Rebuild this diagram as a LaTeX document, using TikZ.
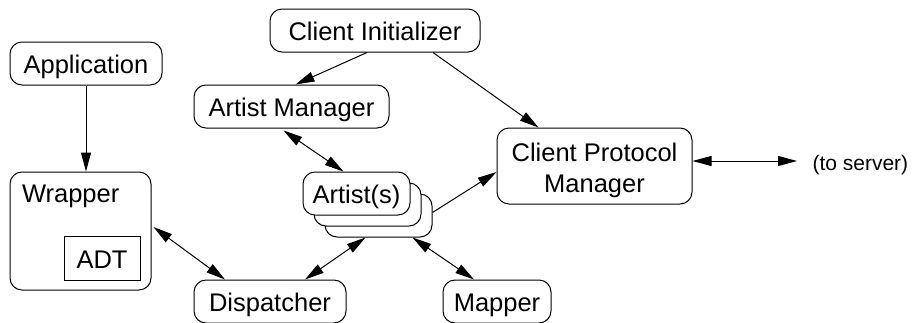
\documentclass[tikz,border=0pt]{standalone}
\usepackage{fontspec}
\setmainfont{Liberation Sans}
\usetikzlibrary{arrows.meta}

\begin{document}
\begin{tikzpicture}[x=1pt,y=1pt,line width=1pt,
  >={Triangle[length=19pt,width=10pt]},
  font=\fontsize{25.5}{31}\selectfont,
  box/.style={draw,rounded corners=12pt,inner xsep=8pt,minimum height=43pt,
    text height=20pt,text depth=0pt}]
  \path[use as bounding box,clip] (0,0) rectangle (912,-322);

  \node[box,minimum width=152pt] (app) at (86,-63.5) {Application};
  \node[box,minimum width=141pt,minimum height=118pt] (wrapper) at (80.5,-231) {};
  \node[anchor=base west,inner sep=0pt] (wraplbl) at ([shift={(12,-31)}]wrapper.north west) {Wrapper};
  \node[draw,minimum width=76pt,minimum height=44pt,text height=20pt,text depth=0pt] (adt) at (102,-258) {ADT};

  \node[box,minimum width=210pt] (init) at (375,-30.5) {Client Initializer};
  \node[box,minimum width=195pt] (artmgr) at (291.5,-106.5) {Artist Manager};

  % stack of artists, back copies first
  \node[box,fill=white,minimum width=107pt] (artistc) at (378.5,-215.5) {};
  \node[box,fill=white,minimum width=107pt] (artistb) at (367.5,-204.5) {};
  \node[box,fill=white,minimum width=107pt] (artist) at (356.5,-193.5) {Artist(s)};

  \node[box,align=center,minimum width=195pt,minimum height=76pt,
    text height=57pt,text depth=5pt] (cpm) at (594.5,-166) {Client Protocol\\Manager};
  \node[anchor=west,inner xsep=15pt,font=\fontsize{21}{25}\selectfont] (server) at (797,-165) {(to server)};

  \node[box,minimum width=152pt] (disp) at (270,-301.5) {Dispatcher};
  \node[box,minimum width=108pt] (mapper) at (497,-301.5) {Mapper};

  \draw[->] (app.south) -- (app.south |- wrapper.north);
  \draw[->] ([xshift=-8pt]init.south) -- ([xshift=4pt]artmgr.north);
  \draw[->] ([xshift=58pt]init.south) -- ([xshift=-56pt]cpm.north);
  \draw[<->] ([shift={(-8,-2)}]artmgr.south) -- ([xshift=-13pt]artist.north);
  \draw[<->] ([shift={(2,4)}]wrapper.east) -- ([xshift=-45pt]disp.north);
  \draw[<->] ([xshift=35pt]disp.north) -- ([xshift=-13pt]artistc.south);
  \draw[<->] ([xshift=34pt]artistc.south) -- ([xshift=-23pt]mapper.north);
  \draw[->] ([yshift=3pt]artistc.east) -- ([yshift=-6pt]cpm.west);
  \draw[<->] ([yshift=5pt]cpm.east) -- ([yshift=4pt]server.west);
\end{tikzpicture}
\end{document}
